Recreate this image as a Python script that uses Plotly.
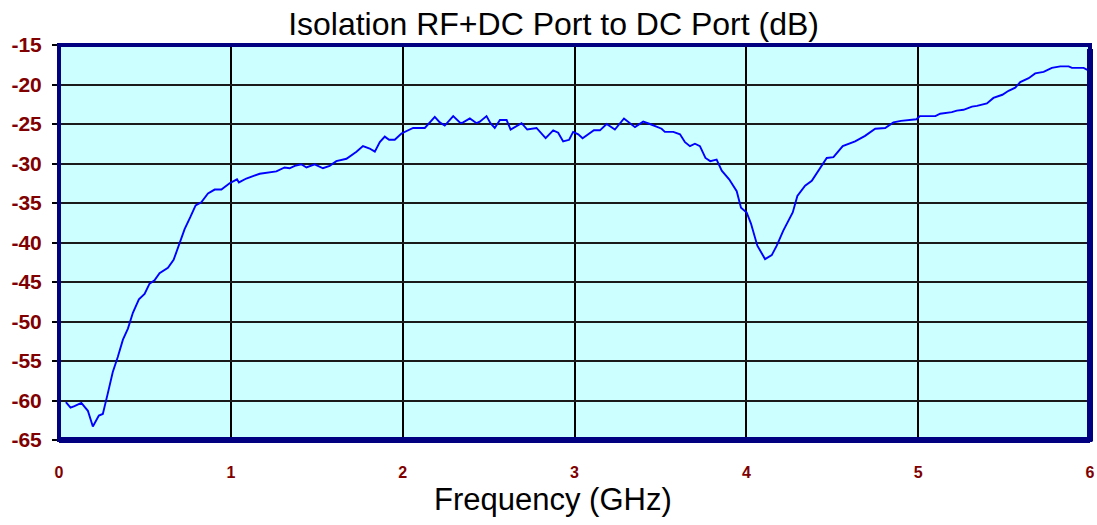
import plotly.graph_objects as go

freq_ghz = [0.04, 0.067, 0.09, 0.13, 0.168, 0.197, 0.232, 0.255, 0.284, 0.313, 0.342, 0.372,
            0.401, 0.43, 0.465, 0.498, 0.527, 0.556, 0.585, 0.634, 0.667, 0.702, 0.731, 0.764,
            0.795, 0.828, 0.867, 0.906, 0.945, 0.993, 1.036, 1.047, 1.09, 1.168, 1.265, 1.313,
            1.342, 1.372, 1.41, 1.44, 1.488, 1.536, 1.575, 1.614, 1.673, 1.731, 1.769, 1.808,
            1.838, 1.867, 1.896, 1.921, 1.954, 1.993, 2.031, 2.061, 2.129, 2.158, 2.187, 2.216,
            2.245, 2.294, 2.337, 2.352, 2.391, 2.43, 2.449, 2.488, 2.511, 2.536, 2.566, 2.605,
            2.628, 2.692, 2.725, 2.779, 2.832, 2.876, 2.905, 2.934, 2.969, 2.992, 3.022, 3.047,
            3.086, 3.113, 3.148, 3.187, 3.235, 3.288, 3.352, 3.4, 3.439, 3.507, 3.526, 3.575,
            3.614, 3.643, 3.672, 3.701, 3.73, 3.762, 3.79, 3.827, 3.857, 3.9, 3.944, 3.969,
            4.002, 4.027, 4.064, 4.109, 4.148, 4.177, 4.215, 4.27, 4.297, 4.342, 4.381, 4.429,
            4.468, 4.507, 4.561, 4.633, 4.691, 4.75, 4.808, 4.856, 4.9, 4.99, 5.01, 5.1,
            5.128, 5.196, 5.225, 5.264, 5.313, 5.342, 5.4, 5.438, 5.49, 5.526, 5.565, 5.594,
            5.643, 5.681, 5.73, 5.778, 5.827, 5.876, 5.895, 5.963, 5.99]

isolation_db = [-60.2, -60.9, -60.7, -60.3, -61.3, -63.3, -61.9, -61.7, -59.1, -56.4, -54.5, -52.3,
                -50.9, -48.9, -47.2, -46.5, -45.2, -44.8, -43.9, -43.2, -42.2, -40.2, -38.3, -36.8,
                -35.3, -34.9, -33.8, -33.3, -33.3, -32.5, -32.0, -32.4, -31.9, -31.3, -31.0, -30.5,
                -30.6, -30.3, -30.1, -30.5, -30.1, -30.6, -30.3, -29.7, -29.4, -28.5, -27.8, -28.1,
                -28.5, -27.3, -26.6, -27.0, -27.0, -26.2, -25.8, -25.5, -25.5, -24.8, -24.1, -24.8,
                -25.2, -24.0, -24.9, -24.8, -24.3, -24.9, -24.7, -24.0, -24.9, -25.5, -24.5, -24.5,
                -25.7, -24.9, -25.7, -25.5, -26.8, -25.8, -26.1, -27.2, -27.0, -26.0, -26.3, -26.8,
                -26.2, -25.8, -25.8, -25.0, -25.7, -24.3, -25.4, -24.7, -25.0, -25.6, -26.0, -26.0,
                -26.3, -27.3, -27.8, -27.5, -27.8, -29.3, -29.7, -29.5, -30.9, -32.0, -33.5, -35.6,
                -36.2, -37.6, -40.4, -42.1, -41.6, -40.4, -38.5, -36.2, -34.1, -32.8, -32.2, -30.5,
                -29.3, -29.2, -27.8, -27.2, -26.5, -25.6, -25.5, -24.8, -24.6, -24.4, -24.0, -24.0,
                -23.7, -23.5, -23.3, -23.2, -22.8, -22.7, -22.4, -21.7, -21.3, -20.8, -20.4, -19.7,
                -19.2, -18.6, -18.4, -17.9, -17.7, -17.7, -17.9, -17.9, -18.2]

x_ticks = [0, 1, 2, 3, 4, 5, 6]
y_ticks = [-15, -20, -25, -30, -35, -40, -45, -50, -55, -60, -65]

title_text = "Isolation RF+DC Port to DC Port (dB)"
x_title = "Frequency (GHz)"

FONT = "Arial, Liberation Sans, sans-serif"
TICK_COLOR = "#800000"

fig = go.Figure()
fig.add_trace(go.Scatter(
    x=freq_ghz, y=isolation_db, mode="lines",
    line=dict(color="#0000FF", width=1.9),
    showlegend=False, hoverinfo="x+y",
))

fig.update_layout(
    width=1097, height=525,
    margin=dict(l=59, r=7, t=45, b=85, autoexpand=False),
    paper_bgcolor="white",
    plot_bgcolor="#CCFFFF",
    title=dict(text=title_text, font=dict(family=FONT, size=32, color="black"),
               x=0.5046, xanchor="center", y=1 - 23.5 / 525, yanchor="middle", yref="container",
               automargin=False),
    xaxis=dict(
        range=[0, 6], tickvals=x_ticks, ticktext=[str(v) for v in x_ticks],
        showgrid=True, gridcolor="black", gridwidth=2,
        zeroline=False, showline=False, ticks="", automargin=False,
        tickfont=dict(family=FONT, size=16, color=TICK_COLOR, weight="bold"),
        ticklabelstandoff=21,
    ),
    yaxis=dict(
        range=[-65, -15], tickvals=y_ticks, ticktext=[str(v) for v in y_ticks],
        showgrid=True, gridcolor="#1a1a1a", gridwidth=2,
        zeroline=False, showline=False, automargin=False,
        ticks="outside", ticklen=6, tickwidth=2, tickcolor="black",
        tickfont=dict(family=FONT, size=21, color=TICK_COLOR, weight="bold"),
        ticklabelstandoff=6,
    ),
    annotations=[dict(
        text=x_title, xref="paper", yref="paper",
        x=(552.5 - 59) / (1090 - 59), y=-(500 - 440.5) / 395, xanchor="center", yanchor="middle",
        showarrow=False, font=dict(family=FONT, size=31, color="black"),
    )],
    shapes=[dict(
        type="rect", xref="paper", yref="paper", x0=0, x1=1, y0=0, y1=1,
        line=dict(color="#000080", width=4), fillcolor="rgba(0,0,0,0)", layer="above",
    ), dict(
        type="line", xref="paper", yref="paper", x0=1, x1=1, y0=-0.004, y1=0.99,
        line=dict(color="#000080", width=6), layer="above",
    ), dict(
        type="line", xref="paper", yref="paper", x0=0, x1=1, y0=0, y1=0,
        line=dict(color="#000080", width=6), layer="above",
    )],
)

fig.write_html("out.html", config={"displayModeBar": False},
               post_script="document.body.style.margin='0';")
